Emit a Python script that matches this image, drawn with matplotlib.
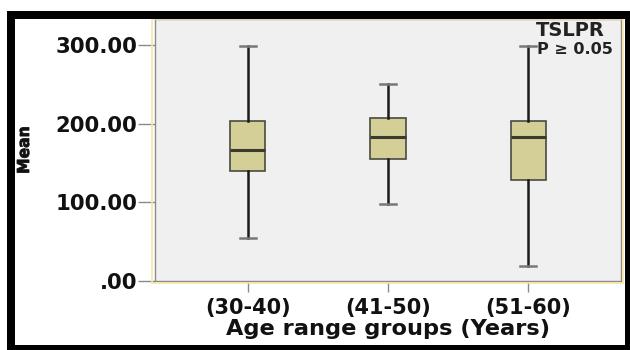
import matplotlib
matplotlib.use("Agg")
import matplotlib.pyplot as plt
from matplotlib.patches import Rectangle, PathPatch
from matplotlib.textpath import TextPath
from matplotlib.font_manager import FontProperties
from matplotlib.transforms import Affine2D, IdentityTransform

categories = ["(30-40)", "(41-50)", "(51-60)"]
whisker_low = [55, 98, 19]
q1 = [140, 155, 128]
median = [166, 183, 183]
q3 = [203, 207, 203]
whisker_high = [299, 251, 299]
ytick_vals = [0, 100, 200, 300]
ytick_labels = [".00", "100.00", "200.00", "300.00"]

W, H = 630, 350
fig = plt.figure(figsize=(W / 100, H / 100), dpi=100)
fig.patch.set_facecolor("white")

def fx(px):
    return px / W

def fy(py):
    return 1 - py / H

ax_l, ax_r, ax_t, ax_b = 155, 621, 19, 281
ax = fig.add_axes([fx(ax_l), fy(ax_b), fx(ax_r - ax_l), fy(ax_t) - fy(ax_b)])
ax.set_facecolor("#f0f0f0")

# pale yellow outline just outside the plot area
fig.patches.append(Rectangle((fx(152), fy(283)), fx(623 - 152), fy(ax_t) - fy(283),
                             transform=fig.transFigure, fill=False,
                             edgecolor="#f6e6a6", linewidth=1.2, zorder=0))

stats = []
for i, c in enumerate(categories):
    stats.append(dict(label=c, whislo=whisker_low[i], q1=q1[i], med=median[i],
                      q3=q3[i], whishi=whisker_high[i], fliers=[]))

positions = list(range(1, len(categories) + 1))
ax.bxp(stats, positions=positions, widths=0.25, patch_artist=True, showfliers=False,
       boxprops=dict(facecolor="#d3cf96", edgecolor="#4a4a40", linewidth=1.2),
       medianprops=dict(color="#3a3a30", linewidth=2.2),
       whiskerprops=dict(color="#1a1a1a", linewidth=1.8),
       capprops=dict(color="#777777", linewidth=1.8),
       capwidths=0.12)

ax.set_xlim(0.336, 3.664)
ax.set_ylim(0, 333)
ax.set_yticks(ytick_vals)
ax.set_yticklabels(ytick_labels)
ax.set_xticks(positions)
ax.set_xticklabels(categories)

for s in ax.spines.values():
    s.set_color("#8a8a8a")
    s.set_linewidth(1.0)

ax.tick_params(axis="y", length=12, width=1, color="#8a8a8a", pad=1,
               labelsize=15.3, labelcolor="#111111")
ax.tick_params(axis="x", length=8, width=1, color="#8a8a8a", pad=4,
               labelsize=15, labelcolor="#111111")
for lab in ax.get_yticklabels() + ax.get_xticklabels():
    lab.set_fontweight("bold")
    lab.set_family("DejaVu Sans")

ax.set_xlabel("Age range groups (Years)", fontsize=16.2, fontweight="bold",
              color="#111111", labelpad=1, family="DejaVu Sans")

# condensed, rotated "Mean" label drawn as a scaled text path
fp = FontProperties(family="DejaVu Sans", weight="bold")
tp = TextPath((0, 0), "Mean", size=10, prop=fp)
ext = tp.get_extents()
cap_h = 10 * 0.73
sx = 45.0 / ext.width
sy = 12.0 / cap_h
tr = (Affine2D().translate(-(ext.x0 + ext.width / 2), -cap_h / 2)
      .scale(sx, sy).rotate_deg(90).translate(23, H - 150))
fig.patches.append(PathPatch(tr.transform_path(tp), transform=IdentityTransform(),
                             facecolor="#111111", edgecolor="#111111",
                             linewidth=0.6, zorder=5))

fig.text(fx(605), fy(30), "TSLPR", ha="right", va="center", fontsize=14,
         fontweight="bold", color="#222222", family="DejaVu Sans")
fig.text(fx(613), fy(50), "P \u2265 0.05", ha="right", va="center", fontsize=11.5,
         fontweight="bold", color="#222222", family="DejaVu Sans")

# thick black outer frame
black = "#000000"
for (x0, y0, x1, y1) in [(7, 11, 630, 19), (7, 11, 15, 350), (625, 11, 630, 350), (7, 345, 630, 350)]:
    fig.patches.append(Rectangle((fx(x0), fy(y1)), fx(x1 - x0), fy(y0) - fy(y1),
                                 transform=fig.transFigure, facecolor=black,
                                 edgecolor="none", zorder=10))

fig.savefig("out.png", dpi=100)
